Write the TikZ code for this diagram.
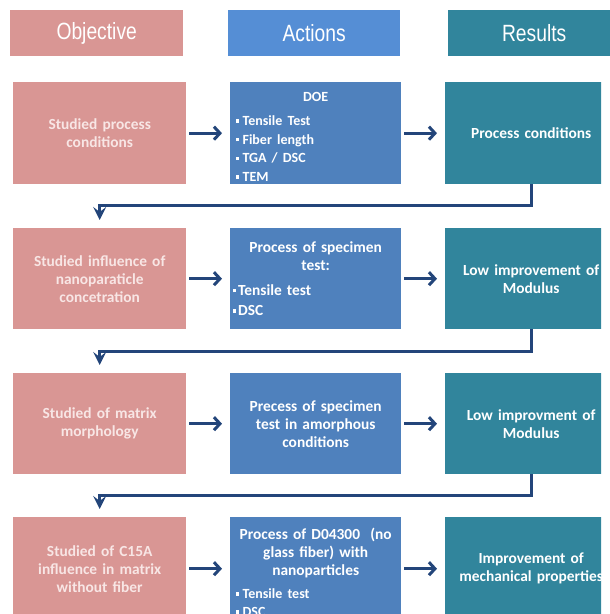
\documentclass[tikz,border=0pt]{standalone}
\usepackage{fontspec}
\setmainfont{Carlito}
\newfontfamily\hdrfont{Liberation Sans}[FakeStretch=0.82]
\usetikzlibrary{arrows.meta}
\definecolor{pinkc}{HTML}{D99694}
\definecolor{pinktxt}{HTML}{F8E6E5}
\definecolor{bluehdr}{HTML}{558ED5}
\definecolor{bluec}{HTML}{4F81BD}
\definecolor{tealc}{HTML}{31859C}
\definecolor{navy}{HTML}{23457A}
\newcommand\bulsq{\raisebox{2.8pt}{\rule{3.4pt}{3.4pt}}\hspace{3.5pt}}
\begin{document}
\begin{tikzpicture}[x=1pt,y=-1pt,
  hdr/.style={rectangle, inner sep=0pt, anchor=north west, minimum height=46pt,
    text=white, font=\hdrfont\fontsize{23.5}{26}\selectfont},
  rowbox/.style={rectangle, inner sep=0pt, anchor=north west, minimum height=102pt,
    align=center, font=\bfseries\fontsize{15.4}{18}\selectfont},
  obox/.style={rowbox, fill=pinkc, text=pinktxt, minimum width=173pt, text width=167pt},
  abox/.style={rowbox, fill=bluec, text=white, minimum width=171pt, text width=160pt},
  rbox/.style={rowbox, fill=tealc, text=white, minimum width=172pt, text width=170pt},
  harr/.style={draw=navy, line width=3pt, -{Straight Barb[length=6pt,width=13pt]},
    shorten <=3pt, shorten >=8pt},
  conn/.style={draw=navy, line width=2.6pt, -{Stealth[length=13pt,width=13pt,inset=5pt]},
    shorten >=8pt}
]
\useasboundingbox (0,0) rectangle (610,614);
\clip (0,0) rectangle (610,614);

% headers
\node[hdr, fill=pinkc, minimum width=173pt] (h1) at (10,10) {\raisebox{-2pt}{Objective}};
\node[hdr, fill=bluehdr, minimum width=172pt] (h2) at (228,10) {\raisebox{-2pt}{Actions}};
\node[hdr, fill=tealc, minimum width=172pt] (h3) at (448,10) {\raisebox{-2pt}{Results}};

% objectives
\node[obox] (o1) at (13,82) {Studied process\\conditions};
\node[obox, minimum height=101pt] (o2) at (13,228) {Studied influence of\\nanoparaticle\\concetration};
\node[obox, minimum height=101pt] (o3) at (13,373) {Studied of matrix\\morphology};
\node[obox, minimum height=103pt] (o4) at (13,517) {Studied of C15A\\influence in matrix\\without fiber};

% actions
\node[abox, align=left] (a1) at (230,82) {\centerline{\fontsize{14}{18}\selectfont DOE}\par\vspace{5pt}%
  {\fontsize{14}{18.7}\selectfont \bulsq Tensile Test\par \bulsq Fiber length\par \bulsq TGA / DSC\par \bulsq TEM\par}\vspace{-8pt}};
\node[abox, align=left, minimum height=101pt] (a2) at (230,228) {\centerline{Process of specimen}\par\centerline{test:}\par\vspace{4pt}%
  {\fontsize{15.4}{20.5}\selectfont\hspace{-3pt}\bulsq\hspace{-1.5pt}Tensile test\par \hspace{-3pt}\bulsq\hspace{-1.5pt}DSC\par}};
\node[abox, minimum height=101pt] (a3) at (230,373) {Precess of specimen\\test in amorphous\\conditions};
\node[abox, align=left, minimum height=103pt] (a4) at (230,517) {\centerline{Process of D04300\ \ (no}\par\centerline{glass fiber) with}\par\centerline{nanoparticles}\par\vspace{5pt}%
  {\fontsize{14}{18}\selectfont \bulsq Tensile test\par \bulsq DSC\par}\vspace{-7pt}};

% results (clipped at right edge of the boxes)
\begin{scope}
\clip (0,60) rectangle (601,614);
\node[rbox] (t1) at (445,82) {Process conditions};
\node[rbox, minimum height=101pt] (t2) at (445,228) {Low improvement of\\Modulus};
\node[rbox, minimum height=101pt] (t3) at (445,373) {Low improvment of\\Modulus};
\node[rbox, minimum height=103pt] (t4) at (445,517) {Improvement of\\mechanical properties};
\end{scope}

% horizontal arrows
\draw[harr] (o1) -- (a1);
\draw[harr] (a1) -- (t1);
\draw[harr] (o2) -- (a2);
\draw[harr] (a2) -- (t2);
\draw[harr] (o3) -- (a3);
\draw[harr] (a3) -- (t3);
\draw[harr] (o4) -- (a4);
\draw[harr] (a4) -- (t4);

% row connectors
\draw[conn] (t1.south) -- ++(0,21) -| (o2.north);
\draw[conn] (t2.south) -- ++(0,22) -| (o3.north);
\draw[conn] (t3.south) -- ++(0,21) -| (o4.north);
\end{tikzpicture}
\end{document}
